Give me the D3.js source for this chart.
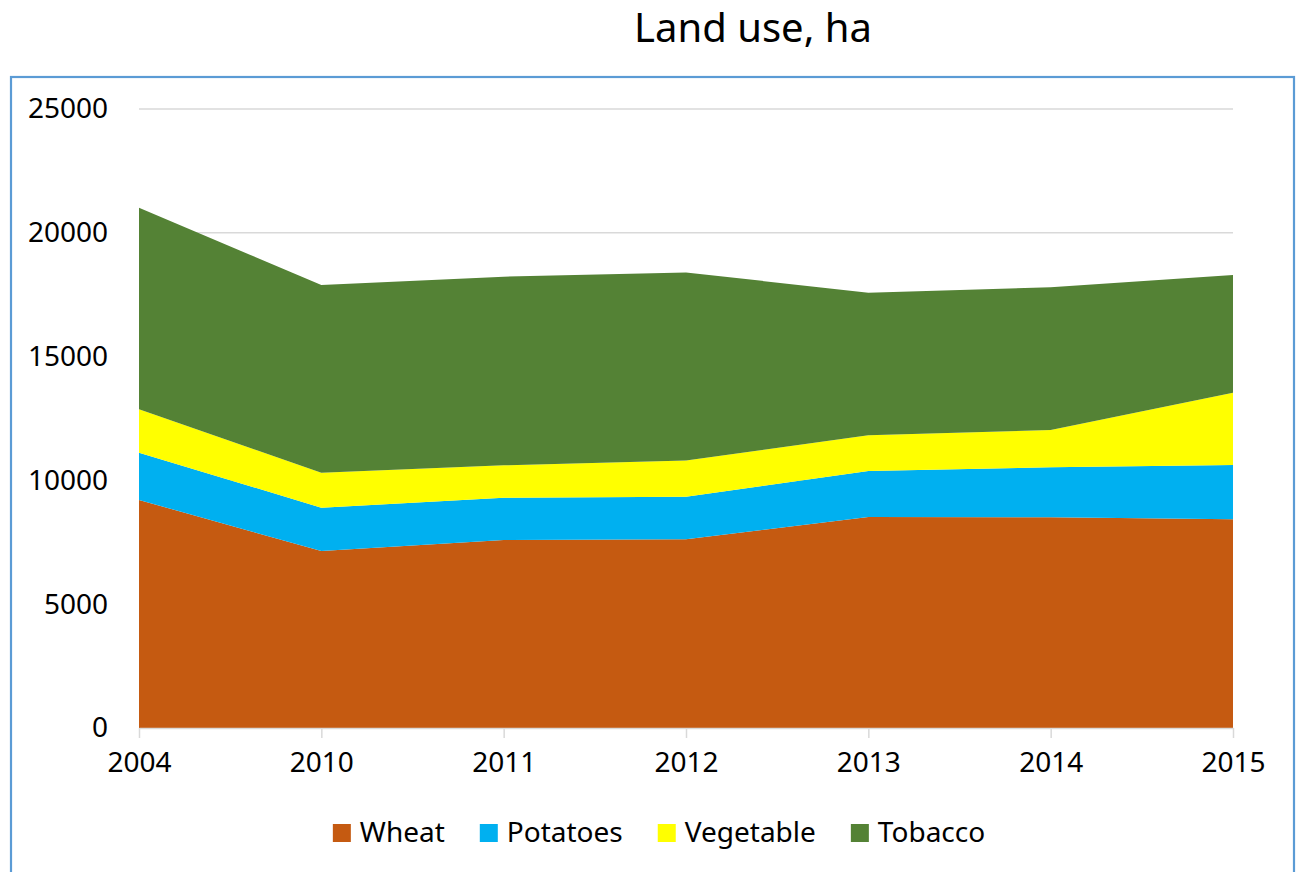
<!DOCTYPE html>
<html>
<head>
<meta charset="utf-8">
<script src="https://cdn.jsdelivr.net/npm/d3@7"></script>
<style>
  body { margin: 0; background: #fff; }
  svg { display: block; font-family: "Noto Sans", sans-serif; }
</style>
</head>
<body>
<svg width="1297" height="872"></svg>
<script>
// data
var years = ["2004", "2010", "2011", "2012", "2013", "2014", "2015"];
var wheat = [9210, 7150, 7590, 7620, 8520, 8510, 8430];
var potatoes = [1910, 1750, 1710, 1720, 1860, 2020, 2190];
var vegetable = [1750, 1410, 1310, 1460, 1440, 1505, 2920];
var tobacco = [8140, 7580, 7620, 7600, 5760, 5765, 4760];
var seriesNames = ["Wheat", "Potatoes", "Vegetable", "Tobacco"];
var seriesColors = ["#C55A11", "#00B0F0", "#FFFF00", "#548235"];
var yTicks = [0, 5000, 10000, 15000, 20000, 25000];

var svg = d3.select("svg");

// outer frame
svg.append("rect")
    .attr("x", 11).attr("y", 77)
    .attr("width", 1283).attr("height", 820)
    .attr("fill", "none")
    .attr("stroke", "#5B9BD5")
    .attr("stroke-width", 2.2);

svg.append("text")
    .attr("x", 753).attr("y", 42)
    .attr("text-anchor", "middle")
    .style("font-size", "40px")
    .attr("fill", "#000")
    .text("Land use, ha");

var x = d3.scalePoint().domain(years).range([139, 1233]);
var y = d3.scaleLinear().domain([0, 25000]).range([728, 109]);

// gridlines
svg.append("g").selectAll("line")
    .data(yTicks.slice(1))
    .enter().append("line")
    .attr("x1", 139).attr("x2", 1233)
    .attr("y1", function (d) { return y(d); })
    .attr("y2", function (d) { return y(d); })
    .attr("stroke", "#d9d9d9")
    .attr("stroke-width", 1.5);

// stacked areas
var rows = years.map(function (yr, i) {
    return { year: yr, Wheat: wheat[i], Potatoes: potatoes[i], Vegetable: vegetable[i], Tobacco: tobacco[i] };
});
var stack = d3.stack().keys(seriesNames);
var layers = stack(rows);

var area = d3.area()
    .x(function (d) { return x(d.data.year); })
    .y0(function (d) { return y(d[0]); })
    .y1(function (d) { return y(d[1]); });

svg.append("g").selectAll("path")
    .data(layers)
    .enter().append("path")
    .attr("d", area)
    .attr("fill", function (d, i) { return seriesColors[i]; });

// x axis
var xAxis = d3.axisBottom(x).tickSize(10).tickSizeOuter(0).tickPadding(14);
var gx = svg.append("g")
    .attr("transform", "translate(0,728)")
    .call(xAxis);
gx.select(".domain").attr("stroke", "#d9d9d9").attr("stroke-width", 1.5);
gx.selectAll(".tick line").attr("stroke", "#d9d9d9").attr("stroke-width", 1.5);
gx.selectAll(".tick text")
    .attr("fill", "#000")
    .style("font-size", "28px")
    .style("font-family", "Noto Sans, sans-serif");

// y axis labels only
var yAxis = d3.axisLeft(y).tickValues(yTicks).tickFormat(d3.format("d")).tickSize(0).tickPadding(0);
var gy = svg.append("g")
    .attr("transform", "translate(108,0)")
    .call(yAxis);
gy.select(".domain").remove();
gy.selectAll(".tick text")
    .attr("fill", "#000")
    .style("font-size", "28px")
    .style("font-family", "Noto Sans, sans-serif");

// legend
var legend = svg.append("g");
var lx = 0;
seriesNames.forEach(function (name, i) {
    var item = legend.append("g").attr("transform", "translate(" + lx + ",0)");
    item.append("rect")
        .attr("x", 0).attr("y", 824)
        .attr("width", 18).attr("height", 18)
        .attr("fill", seriesColors[i]);
    var t = item.append("text")
        .attr("x", 27).attr("y", 842)
        .style("font-size", "28px")
        .attr("fill", "#000")
        .text(name);
    lx += 27 + t.node().getComputedTextLength() + 35;
});
var legendWidth = lx - 35;
legend.attr("transform", "translate(" + (659 - legendWidth / 2) + ",0)");
</script>
</body>
</html>
